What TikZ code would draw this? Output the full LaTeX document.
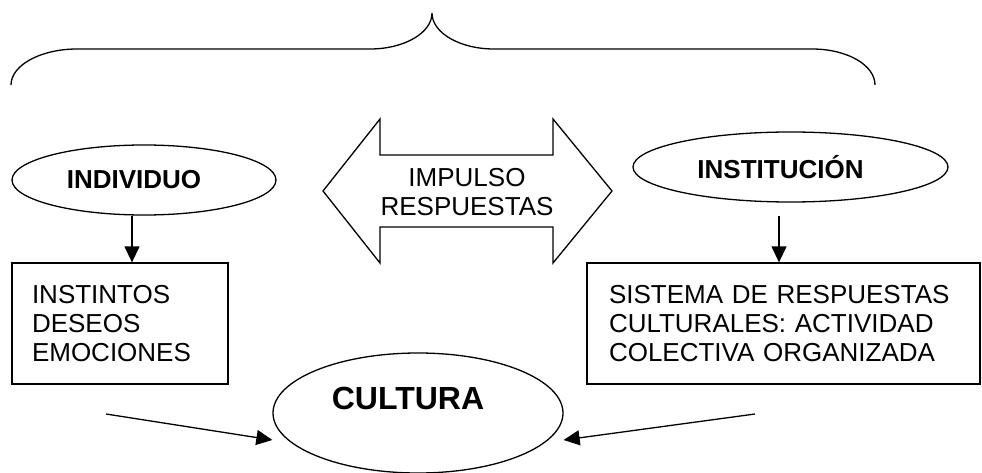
\documentclass[tikz,border=0pt]{standalone}
\usepackage{fontspec}
\setmainfont{Liberation Sans}
\usetikzlibrary{shapes,arrows.meta}

\begin{document}
\begin{tikzpicture}[x=1pt,y=-1pt]
\tikzstyle{every path}=[line width=1.3pt]
\tikzstyle{rotulo}=[font=\fontsize{26}{29}\selectfont\bfseries,inner sep=0pt]
\tikzstyle{oval}=[ellipse,draw,inner sep=0pt]
\tikzstyle{caja}=[draw,rectangle,inner ysep=0pt,align=left,font=\fontsize{26}{29}\selectfont]
\tikzstyle{flecha}=[-{Triangle[length=16pt,width=15pt]}]
\useasboundingbox (0,0) rectangle (982,473);
% llave superior
\draw (11,85) .. controls (11,65) and (41,49) .. (77,49) -- (370,49)
 .. controls (404,49) and (432,33) .. (432,13)
 .. controls (432,33) and (460,49) .. (494,49) -- (812,49)
 .. controls (847,49) and (875,65) .. (875,85);
% flecha doble
\draw (323,191) -- (380,119) -- (380,155) -- (553,155) -- (553,119) -- (612,191)
 -- (553,263) -- (553,227) -- (380,227) -- (380,263) -- cycle;
\node [font=\fontsize{26}{29}\selectfont,align=center] (impulso) at (467,192) {IMPULSO\\RESPUESTAS};
% elipses
\node [oval,minimum width=264pt,minimum height=70pt,
 label={[rotulo,xshift=-10pt]center:INDIVIDUO}] (indiv) at (144,180) {};
\node [oval,minimum width=315pt,minimum height=70pt,
 label={[rotulo,xshift=-10pt]center:INSTITUCIÓN}] (inst) at (790.5,167) {};
\node [oval,minimum width=290pt,minimum height=120pt,
 label={[rotulo,font=\fontsize{32}{36}\selectfont\bfseries,xshift=-10pt,yshift=15pt]center:CULTURA}] (cultura) at (418,413) {};
% cajas
\node [caja,inner xsep=20pt,text width=176pt,minimum height=121pt] (lcaja) at (120,323.5)
 {INSTINTOS\\DESEOS\\EMOCIONES\par\vspace{7pt}};
\node [caja,inner xsep=22pt,text width=349pt,minimum height=121pt] (rcaja) at (783.5,323.5)
 {SISTEMA DE RESPUESTAS\\CULTURALES: ACTIVIDAD\\COLECTIVA ORGANIZADA\par\vspace{11pt}};
% flechas
\draw [flecha] ([xshift=-12pt]indiv.south) -- ([xshift=12pt]lcaja.north);
\draw [flecha] ([xshift=-11.5pt,yshift=-13pt]inst.south) -- ([xshift=-4.5pt]rcaja.north);
\coordinate (izq) at (106,414);
\coordinate (der) at (755,414);
\draw [flecha] (izq) -- ([yshift=-27pt]cultura.west);
\draw [flecha] (der) -- ([yshift=-27pt]cultura.east);
\end{tikzpicture}
\end{document}
